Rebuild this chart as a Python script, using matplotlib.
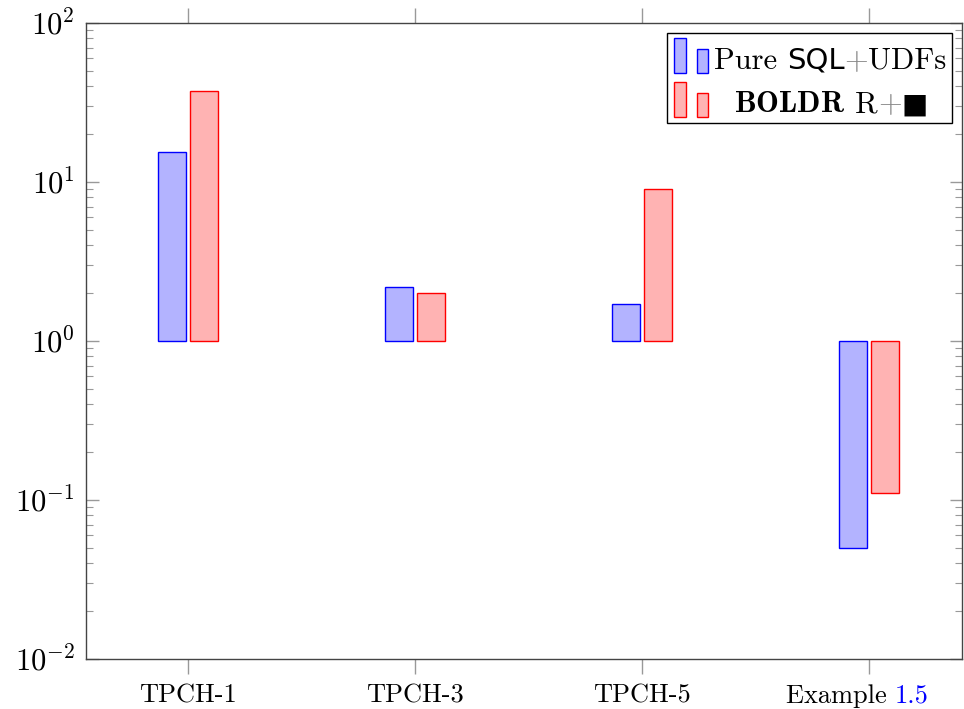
import numpy as np
import matplotlib
matplotlib.use('agg')
import matplotlib.pyplot as plt
from matplotlib.patches import Rectangle
from matplotlib.offsetbox import (AnchoredOffsetbox, DrawingArea, HPacker,
                                  VPacker, TextArea)

plt.rcParams['font.family'] = 'serif'
plt.rcParams['font.serif'] = ['cmr10']
plt.rcParams['mathtext.fontset'] = 'cm'
plt.rcParams['axes.formatter.use_mathtext'] = True

### data
categories = ['TPCH-1', 'TPCH-3', 'TPCH-5', 'Example']
sql_udfs = [15.5, 2.2, 1.7, 0.05]
boldr = [37.5, 2.0, 9.0, 0.11]

blue_face, blue_edge = '#b3b3ff', '#0000ff'
red_face, red_edge = '#ffb3b3', '#ff0000'

fig = plt.figure(figsize=(9.64, 7.09), dpi=100)
ax = fig.add_axes([86/964, 50/709, 876/964, 636/709])

x = np.arange(len(categories))
w = 0.123
off = 0.07
base = 1.0
h1 = np.array(sql_udfs) - base
h2 = np.array(boldr) - base
ax.bar(x - off, h1, w, bottom=base, color=blue_face, edgecolor=blue_edge, linewidth=1)
ax.bar(x + off, h2, w, bottom=base, color=red_face, edgecolor=red_edge, linewidth=1)

ax.set_yscale('log')
ax.set_ylim(1e-2, 1e2)
ax.set_xlim(-0.45, 3.41)
ax.set_xticks(x)
ax.set_xticklabels(categories[:3] + [''], fontsize=19)
# "Example 1.5" with the reference number in blue
split = 3.115
ax.text(split, -0.039, 'Example ', transform=ax.get_xaxis_transform(), ha='right',
        va='top', fontsize=19)
ax.text(split, -0.039, '1.5', transform=ax.get_xaxis_transform(), ha='left',
        va='top', fontsize=19, color='#0000ff')

ax.tick_params(axis='x', which='both', direction='out', top=True, bottom=True,
               length=11, width=1, color='#999999', pad=7)
ax.tick_params(axis='y', which='major', direction='in', left=True, right=True,
               length=9, width=1, color='#999999', labelsize=22, pad=8)
ax.tick_params(axis='y', which='minor', direction='in', left=True, right=True,
               length=5, width=0.8, color='#999999')
ax.yaxis.set_minor_locator(matplotlib.ticker.LogLocator(base=10, subs=np.arange(2, 10)))
ax.yaxis.set_minor_formatter(matplotlib.ticker.NullFormatter())
for s in ax.spines.values():
    s.set_color('#444444')
    s.set_linewidth(1)

### legend built from pieces
def swatch(face, edge):
    da = DrawingArea(30, 22, 0, 0)
    da.add_artist(Rectangle((1, -3), 9, 25, facecolor=face, edgecolor=edge, lw=1))
    da.add_artist(Rectangle((18, -3), 8, 17, facecolor=face, edgecolor=edge, lw=1))
    return da

fs = 22
row1 = HPacker(children=[
    swatch(blue_face, blue_edge),
    TextArea('Pure ', textprops=dict(fontsize=fs)),
    TextArea('SQL', textprops=dict(fontsize=fs - 1, family='DejaVu Sans')),
    TextArea('+', textprops=dict(fontsize=fs, color='#888888')),
    TextArea('UDFs', textprops=dict(fontsize=fs)),
], align='baseline', pad=0, sep=0)
row2 = HPacker(children=[
    swatch(red_face, red_edge),
    TextArea('  ', textprops=dict(fontsize=fs)),
    TextArea(r'$\mathbf{BOLDR}$', textprops=dict(fontsize=fs)),
    TextArea(' R', textprops=dict(fontsize=fs)),
    TextArea('+', textprops=dict(fontsize=fs, color='#888888')),
    TextArea('\u25a0', textprops=dict(fontsize=fs - 2, family='DejaVu Sans')),
], align='baseline', pad=0, sep=0)
box = VPacker(children=[row1, row2], align='left', pad=0, sep=5)
leg = AnchoredOffsetbox(loc='upper right', child=box, pad=0.35, borderpad=0.75,
                        frameon=True, bbox_to_anchor=(1, 1),
                        bbox_transform=ax.transAxes)
leg.patch.set_edgecolor('black')
leg.patch.set_linewidth(1)
leg.patch.set_boxstyle('square', pad=0)
ax.add_artist(leg)

fig.savefig('out.png', dpi=100, facecolor='white')
